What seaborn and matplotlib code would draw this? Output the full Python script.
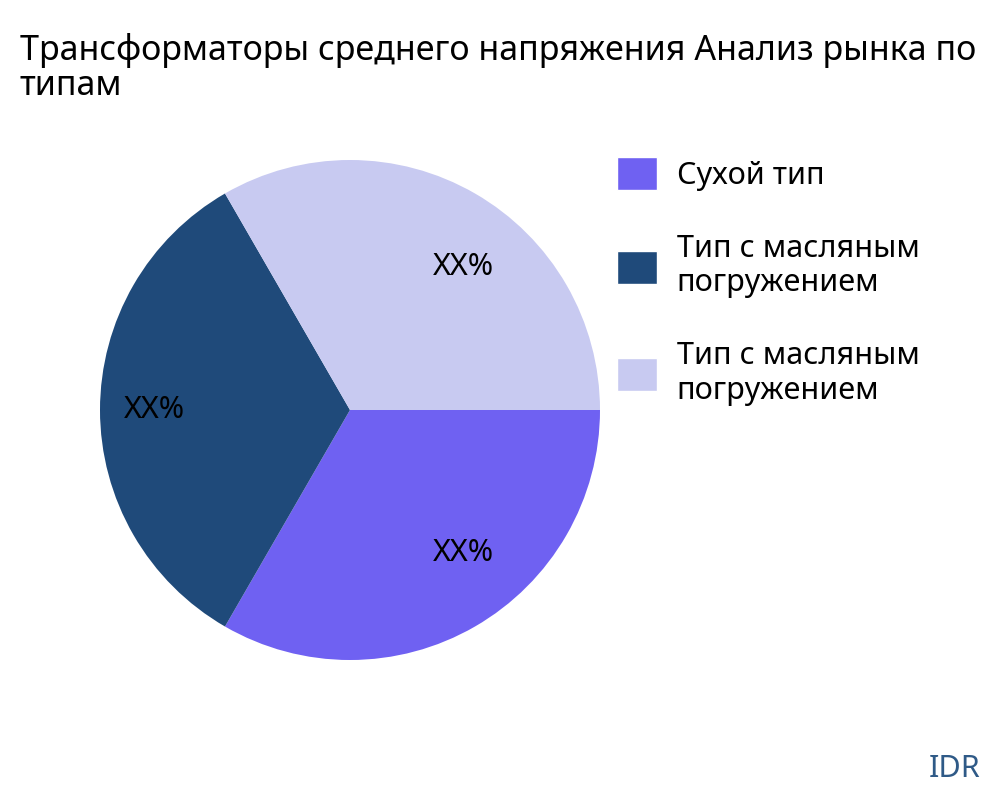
import matplotlib
matplotlib.use("Agg")
import matplotlib.pyplot as plt
import seaborn as sns
from matplotlib.patches import Patch

sns.set_theme(style="white")
plt.rcParams['font.family'] = ['Noto Sans', 'DejaVu Sans']

categories = ["Сухой тип", "Тип с масляным\nпогружением", "Тип с масляным\nпогружением"]
values = [1, 1, 1]
labels = ["XX%", "XX%", "XX%"]
colors = ["#6f61f2", "#1f4a7a", "#c8caf1"]

fig = plt.figure(figsize=(10, 8), dpi=100)
ax = fig.add_axes([0.1, 0.175, 0.5, 0.625])
wedges, texts = ax.pie(values, colors=colors, startangle=0, counterclock=False,
                       labels=labels, labeldistance=0.66,
                       wedgeprops=dict(linewidth=0),
                       textprops=dict(fontsize=22, color="black"))
ax.set_xlim(-1, 1)
ax.set_ylim(-1, 1)
ax.set_aspect("equal")

fig.text(0.02, 0.915, "Трансформаторы среднего напряжения Анализ рынка по\nтипам",
         fontsize=24.5, ha="left", va="center", color="black", linespacing=1.05)

handles = [Patch(facecolor=c) for c in colors]
fig.legend(handles, categories, loc="upper left", bbox_to_anchor=(0.608, 0.815),
           frameon=False, fontsize=22, handlelength=1.3, handleheight=1.3,
           labelspacing=1.4, handletextpad=0.65, labelcolor="black",
           borderaxespad=0, borderpad=0.3)

fig.text(0.98, 0.02, "IDR", fontsize=22, color="#2f5a87", ha="right", va="bottom")

fig.savefig("out.png", dpi=100)
